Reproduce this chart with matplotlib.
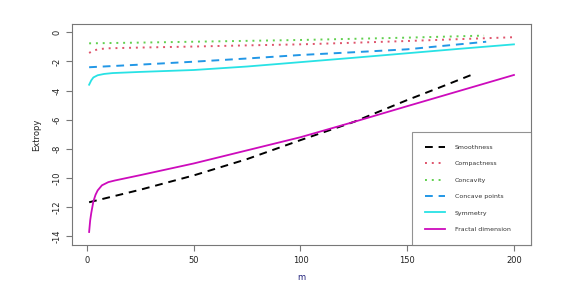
import matplotlib
matplotlib.use('Agg')
import matplotlib.pyplot as plt

# values
m_smooth = [1, 25, 50, 75, 100, 125, 150, 165, 180]
smoothness = [-11.66, -10.8, -9.82, -8.7, -7.4, -6.15, -4.65, -3.8, -2.93]

m_comp = [1, 3, 6, 10, 25, 50, 75, 100, 125, 150, 175, 200]
compactness = [-1.42, -1.25, -1.15, -1.1, -1.05, -0.98, -0.9, -0.83, -0.72, -0.6, -0.47, -0.34]

m_conc = [1, 25, 50, 75, 100, 125, 150, 186]
concavity = [-0.76, -0.71, -0.65, -0.59, -0.53, -0.45, -0.37, -0.23]

m_cp = [1, 25, 50, 75, 100, 125, 150, 187]
concave_points = [-2.4, -2.22, -2.02, -1.8, -1.56, -1.37, -1.17, -0.65]

m_sym = [1, 2, 3, 5, 8, 12, 25, 50, 75, 100, 125, 150, 175, 200]
symmetry = [-3.6, -3.3, -3.1, -2.95, -2.86, -2.8, -2.72, -2.59, -2.35, -2.05, -1.75, -1.44, -1.13, -0.83]

m_frac = [1, 1.5, 2, 3, 4, 5, 7, 10, 13, 25, 50, 75, 100, 125, 150, 175, 200]
fractal = [-13.7, -12.9, -12.4, -11.6, -11.15, -10.85, -10.5, -10.28, -10.17, -9.8, -9.0, -8.1, -7.2, -6.15, -5.07, -4.0, -2.93]

labels = ['Smoothness', 'Compactness', 'Concavity', 'Concave points',
          'Symmetry', 'Fractal dimension']
colors = ['black', '#DF536B', '#61D04F', '#2297E6', '#28E2E5', '#CD0BBC']

fig = plt.figure(figsize=(5.81, 2.85), dpi=100)
ax = fig.add_axes([0.124, 0.14, 0.79, 0.776])

ax.plot(m_smooth, smoothness, color=colors[0], lw=1.4, linestyle=(0, (4, 3)), label=labels[0])
ax.plot(m_comp, compactness, color=colors[1], lw=1.4, linestyle=(0, (1, 2.5)), label=labels[1])
ax.plot(m_conc, concavity, color=colors[2], lw=1.4, linestyle=(0, (1, 2.5)), label=labels[2])
ax.plot(m_cp, concave_points, color=colors[3], lw=1.4, linestyle=(0, (4, 3)), label=labels[3])
ax.plot(m_sym, symmetry, color=colors[4], lw=1.3, label=labels[4])
ax.plot(m_frac, fractal, color=colors[5], lw=1.3, label=labels[5])

ax.set_xlim(-7, 208)
ax.set_ylim(-14.6, 0.57)
ax.set_xticks([0, 50, 100, 150, 200])
ax.set_yticks([0, -2, -4, -6, -8, -10, -12, -14])
ax.set_yticklabels(['0', '-2', '-4', '-6', '-8', '-10', '-12', '-14'], rotation=90, va='center')
for s in ax.spines.values():
    s.set_color('#777777')
ax.tick_params(colors='#777777', labelcolor='#222222', labelsize=6, length=4, width=0.8)
ax.set_xlabel('m', fontsize=6, color='#20207a', labelpad=6)
ax.set_ylabel('Extropy', fontsize=6, color='#222222', labelpad=8)

leg = ax.legend(loc='lower right', bbox_to_anchor=(0.74, 0.0, 0.26, 0.52), mode='expand',
                borderaxespad=0, fontsize=4.5, frameon=True, fancybox=False,
                handlelength=3.2, handletextpad=1.6, labelspacing=1.76,
                borderpad=2.1)
leg.get_frame().set_edgecolor('#777777')
leg.get_frame().set_linewidth(0.8)
for t in leg.get_texts():
    t.set_color('#333333')

fig.savefig('out.png', dpi=100)
